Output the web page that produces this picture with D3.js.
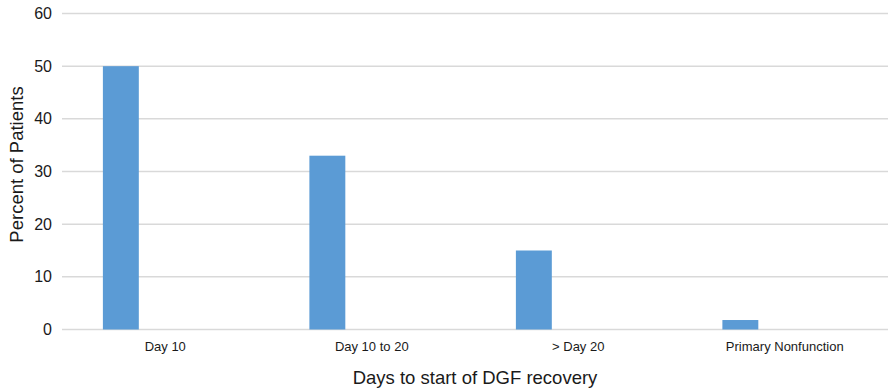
<!DOCTYPE html>
<html>
<head>
<meta charset="utf-8">
<script src="https://cdn.jsdelivr.net/npm/d3@7"></script>
<style>
  html, body { margin: 0; padding: 0; background: #fff; }
  svg { display: block; font-family: "Liberation Sans", Arial, Helvetica, sans-serif; }
</style>
</head>
<body>
<svg id="chart" width="889" height="392"></svg>
<script>
// Share of patients by time to start of DGF recovery
const categories = ["Day 10", "Day 10 to 20", "> Day 20", "Primary Nonfunction"];
const percentValues = [50, 33, 15, 1.8];
const yTicks = [0, 10, 20, 30, 40, 50, 60];

const svg = d3.select("#chart");
const margin = { top: 13.5, right: 1, bottom: 62.5, left: 62 };
const width = 889 - margin.left - margin.right;
const height = 392 - margin.top - margin.bottom;

const g = svg.append("g").attr("transform", `translate(${margin.left},${margin.top})`);

const x = d3.scaleBand().domain(categories).range([0, width]).padding(0);
const y = d3.scaleLinear().domain([0, 60]).range([height, 0]);

// horizontal gridlines
g.append("g")
  .selectAll("line")
  .data(yTicks)
  .join("line")
  .attr("x1", 0)
  .attr("x2", width)
  .attr("y1", d => y(d))
  .attr("y2", d => y(d))
  .attr("stroke", "#d9d9d9")
  .attr("stroke-width", 1.5);

// y axis labels
const yAxis = g.append("g")
  .attr("transform", "translate(-10,0)")
  .call(d3.axisLeft(y).tickValues(yTicks).tickSize(0).tickPadding(0));
yAxis.select(".domain").remove();
yAxis.selectAll("text")
  .attr("font-size", 16)
  .attr("fill", "#1a1a1a")
  .attr("font-family", "'Liberation Sans', Arial, sans-serif");

// bars (first slot of each category group)
g.append("g")
  .selectAll("rect")
  .data(categories.map((c, i) => ({ c, v: percentValues[i] })))
  .join("rect")
  .attr("x", d => x(d.c) + x.bandwidth() * 0.198)
  .attr("width", x.bandwidth() * 0.174)
  .attr("y", d => y(d.v))
  .attr("height", d => y(0) - y(d.v))
  .attr("fill", "#5b9bd5");

// x axis labels
const xAxis = g.append("g")
  .attr("transform", `translate(0,${height})`)
  .call(d3.axisBottom(x).tickSize(0).tickPadding(12));
xAxis.select(".domain").remove();
xAxis.selectAll("text")
  .attr("font-size", 13)
  .attr("fill", "#1a1a1a")
  .attr("font-family", "'Liberation Sans', Arial, sans-serif");

// axis titles
svg.append("text")
  .attr("x", margin.left + width / 2)
  .attr("y", 384)
  .attr("text-anchor", "middle")
  .attr("font-size", 18.5)
  .attr("fill", "#1a1a1a")
  .text("Days to start of DGF recovery");

svg.append("text")
  .attr("transform", `translate(23,${margin.top + height / 2 - 7}) rotate(-90)`)
  .attr("text-anchor", "middle")
  .attr("font-size", 18.5)
  .attr("fill", "#1a1a1a")
  .text("Percent of Patients");
</script>
</body>
</html>
